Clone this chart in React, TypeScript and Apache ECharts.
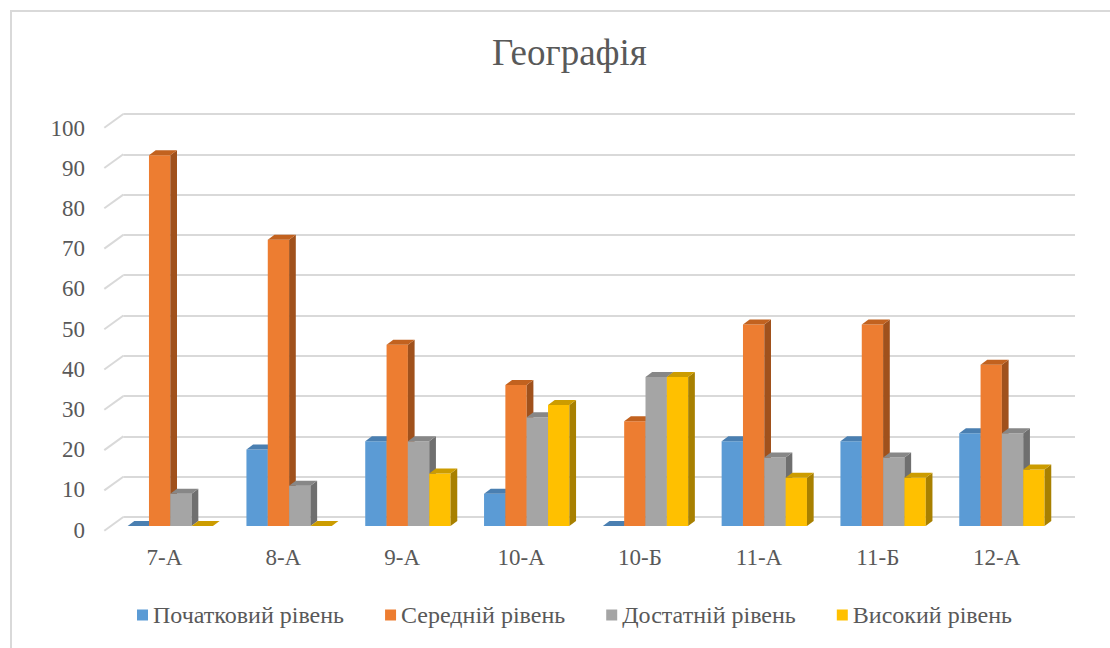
import React, { useEffect, useRef } from "react";
import * as echarts from "echarts";

const title = "Географія";
const categories = ["7-А", "8-А", "9-А", "10-А", "10-Б", "11-А", "11-Б", "12-А"];
const seriesNames = ["Початковий рівень", "Середній рівень", "Достатній рівень", "Високий рівень"];
const initialLevel = [0, 19, 21, 8, 0, 21, 21, 23];
const mediumLevel = [92, 71, 45, 35, 26, 50, 50, 40];
const sufficientLevel = [8, 10, 21, 27, 37, 17, 17, 23];
const highLevel = [0, 0, 13, 30, 37, 12, 12, 14];
const yTicks = [0, 10, 20, 30, 40, 50, 60, 70, 80, 90, 100];

const seriesValues = [initialLevel, mediumLevel, sufficientLevel, highLevel];
const faceColors = [
  { front: "#5B9BD5", top: "#4A7FB1", side: "#3F6D98" },
  { front: "#ED7D31", top: "#C2621F", side: "#A0511C" },
  { front: "#A5A5A5", top: "#878787", side: "#6F6F6F" },
  { front: "#FFC000", top: "#CC9C00", side: "#A88000" },
];

const FONT = "Liberation Serif";
const TEXT = "#595959";
const GRID_COLOR = "#D9D9D9";
const DX = 6.7;
const DY = -5;

export default function App() {
  const ref = useRef<HTMLDivElement>(null);

  useEffect(() => {
    if (!ref.current) return;
    const chart = echarts.init(ref.current, null, { renderer: "svg" });

    const barSeries = seriesValues.map((vals, i) => ({
      type: "custom",
      name: seriesNames[i],
      xAxisIndex: 0,
      yAxisIndex: 0,
      itemStyle: { color: faceColors[i].front },
      silent: true,
      z: 5 + i,
      data: vals.map((v, j) => [j, v]),
      renderItem: (params: any, api: any) => {
        const j = api.value(0);
        const v = api.value(1);
        const base = api.coord([j, 0]);
        const top = api.coord([j, v]);
        const band = api.size([1, 0])[0];
        const bw = (band * 21.33) / 118.8;
        const x0 = base[0] - 2 * bw + i * bw;
        const yT = top[1];
        const yB = base[1];
        const c = faceColors[i];
        return {
          type: "group",
          children: [
            {
              type: "rect",
              shape: { x: x0, y: yT, width: bw, height: Math.max(0, yB - yT) },
              style: { fill: c.front },
            },
            {
              type: "polygon",
              shape: {
                points: [
                  [x0 + bw, yT],
                  [x0 + bw + DX, yT + DY],
                  [x0 + bw + DX, yB + DY],
                  [x0 + bw, yB],
                ],
              },
              style: { fill: c.side },
            },
            {
              type: "polygon",
              shape: {
                points: [
                  [x0, yT],
                  [x0 + DX, yT + DY],
                  [x0 + bw + DX, yT + DY],
                  [x0 + bw, yT],
                ],
              },
              style: { fill: c.top },
            },
          ],
        };
      },
    }));

    const diagonalSeries = {
      type: "custom",
      xAxisIndex: 1,
      yAxisIndex: 1,
      silent: true,
      z: 1,
      data: yTicks.map((t) => [0, t]),
      renderItem: (params: any, api: any) => {
        const p = api.coord([0, api.value(1)]);
        const band = api.size([1, 0])[0];
        const x = p[0] - band / 2;
        return {
          type: "line",
          shape: { x1: x, y1: p[1], x2: x - 19, y2: p[1] + 13.7 },
          style: { stroke: GRID_COLOR, lineWidth: 2 },
        };
      },
    };

    const option: any = {
      animation: false,
      backgroundColor: "#ffffff",
      textStyle: { fontFamily: FONT },
      title: {
        text: title,
        left: 487,
        top: 29,
        textStyle: { fontFamily: FONT, fontSize: 37, fontWeight: "normal", color: TEXT },
      },
      legend: {
        data: seriesNames,
        left: 132,
        top: 598,
        itemWidth: 11,
        itemHeight: 11,
        itemGap: 41,
        icon: "rect",
        textStyle: { fontFamily: FONT, fontSize: 24, color: TEXT },
      },
      graphic: [
        {
          type: "rect",
          z: -10,
          shape: { x: 11, y: 11, width: 1400, height: 900 },
          style: { fill: "none", stroke: GRID_COLOR, lineWidth: 2 },
          silent: true,
        },
      ],
      grid: [
        { left: 110.9, right: 48.7, top: 123, bottom: 122 },
        { left: 123.3, right: 35, top: 114, bottom: 131 },
        { left: 105, right: 53.8, top: 128, bottom: 118 },
      ],
      xAxis: [
        { type: "category", gridIndex: 0, data: categories, show: false },
        { type: "category", gridIndex: 1, data: categories, show: false },
        {
          type: "category",
          gridIndex: 2,
          data: categories,
          axisLine: { show: false },
          axisTick: { show: false },
          axisLabel: { fontFamily: FONT, fontSize: 23, color: TEXT, margin: 16 },
        },
      ],
      yAxis: [
        { type: "value", gridIndex: 0, min: 0, max: 100, interval: 10, show: false },
        {
          type: "value",
          gridIndex: 1,
          min: 0,
          max: 100,
          interval: 10,
          axisLine: { show: false },
          axisTick: { show: false },
          axisLabel: { show: false },
          splitLine: { show: true, lineStyle: { color: GRID_COLOR, width: 2 } },
        },
        {
          type: "value",
          gridIndex: 2,
          min: 0,
          max: 100,
          interval: 10,
          axisLine: { show: false },
          axisTick: { show: false },
          splitLine: { show: false },
          axisLabel: { fontFamily: FONT, fontSize: 23, color: TEXT, margin: 20 },
        },
      ],
      series: [diagonalSeries, ...barSeries],
    };

    chart.setOption(option);
    return () => chart.dispose();
  }, []);

  return (
    <div
      ref={ref}
      style={{ position: "absolute", left: 0, top: 0, width: 1110, height: 648 }}
    />
  );
}
